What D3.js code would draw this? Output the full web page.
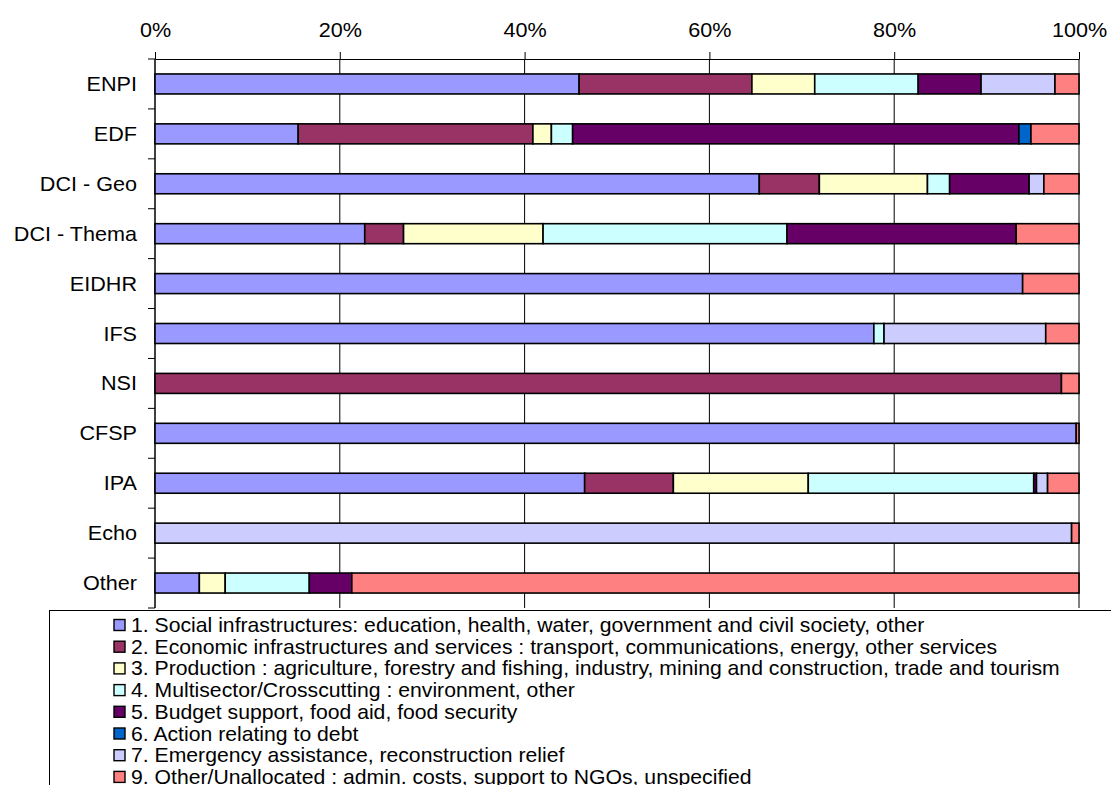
<!DOCTYPE html>
<html>
<head>
<meta charset="utf-8">
<script src="https://cdn.jsdelivr.net/npm/d3@7"></script>
<style>
  body { margin: 0; background: #fff; }
  svg { display: block; }
  text { font-family: "Liberation Sans", Arial, sans-serif; fill: #000; }
</style>
</head>
<body>
<script>
// instruments (rows, top to bottom)
var categories = ["ENPI", "EDF", "DCI - Geo", "DCI - Thema", "EIDHR", "IFS", "NSI", "CFSP", "IPA", "Echo", "Other"];

// share of each sector per instrument (%)
var social     = [45.9, 15.5, 65.4, 22.7, 93.9, 77.8, 0,    99.7, 46.5, 0,    4.8];
var economic   = [18.7, 25.4, 6.5,  4.2,  0,    0,    98.1, 0,    9.6,  0,    0];
var production = [6.8,  2.0,  11.7, 15.1, 0,    0,    0,    0,    14.6, 0,    2.8];
var multisect  = [11.2, 2.3,  2.4,  26.4, 0,    1.1,  0,    0,    24.4, 0,    9.1];
var budget     = [6.8,  48.3, 8.6,  24.8, 0,    0,    0,    0,    0.3,  0,    4.6];
var debt       = [0,    1.3,  0,    0,    0,    0,    0,    0,    0,    0,    0];
var emergency  = [8.0,  0,    1.6,  0,    0,    17.5, 0,    0,    1.2,  99.2, 0];
var unalloc    = [2.6,  5.2,  3.8,  6.8,  6.1,  3.6,  1.9,  0.3,  3.4,  0.8,  78.7];

var seriesNames = [
  "1. Social infrastructures: education, health, water, government and civil society, other",
  "2. Economic infrastructures and services : transport, communications, energy, other services",
  "3. Production : agriculture, forestry and fishing, industry, mining and construction, trade and tourism",
  "4. Multisector/Crosscutting : environment, other",
  "5. Budget support, food aid, food security",
  "6. Action relating to debt",
  "7. Emergency assistance, reconstruction relief",
  "9. Other/Unallocated : admin. costs, support to NGOs, unspecified"
];
var seriesColors = ["#9999ff", "#993366", "#ffffcc", "#ccffff", "#660066", "#0066cc", "#ccccff", "#ff8080"];
var seriesValues = [social, economic, production, multisect, budget, debt, emergency, unalloc];
var xTicks = [0, 20, 40, 60, 80, 100];

var width = 1111, height = 785;
var margin = {top: 59, left: 155, right: 32, bottom: 177};
var stretch = "scale(1.08,1)";  // the original text is a bit wider than Arial
var legendStretch = "scale(1.06,1)";

var svg = d3.select("body").append("svg")
  .attr("width", width)
  .attr("height", height);

// build table for the stack
var keys = d3.range(seriesValues.length);
var rows = categories.map(function(c, i) {
  var r = {cat: c};
  keys.forEach(function(k) { r[k] = seriesValues[k][i]; });
  return r;
});
var stacked = d3.stack().keys(keys)(rows);

var x = d3.scaleLinear().domain([0, 100]).range([margin.left, width - margin.right]);
var yb = d3.scaleBand().domain(categories).range([margin.top, height - margin.bottom]);

// vertical gridlines
svg.append("g")
  .selectAll("line")
  .data(xTicks)
  .enter().append("line")
  .attr("x1", function(d) { return x(d); })
  .attr("x2", function(d) { return x(d); })
  .attr("y1", margin.top)
  .attr("y2", height - margin.bottom)
  .attr("stroke", "#000")
  .attr("stroke-width", 1);

// top axis
var xAxis = svg.append("g")
  .attr("transform", "translate(0," + margin.top + ")")
  .call(d3.axisTop(x).tickValues(xTicks).tickSizeInner(7).tickSizeOuter(0).tickFormat(function(d) { return d + "%"; }));
xAxis.select(".domain").attr("stroke", "#000");
xAxis.selectAll(".tick line").attr("stroke", "#000");
xAxis.selectAll("text")
  .attr("y", -22)
  .attr("transform", stretch)
  .style("font-size", "20px")
  .style("font-family", "'Liberation Sans', Arial, sans-serif");

// left axis: ticks between categories
var yAxisG = svg.append("g");
yAxisG.append("line")
  .attr("x1", margin.left).attr("x2", margin.left)
  .attr("y1", margin.top).attr("y2", height - margin.bottom)
  .attr("stroke", "#000");
yAxisG.selectAll("line.tk")
  .data(categories.concat(["_end"]))
  .enter().append("line")
  .attr("class", "tk")
  .attr("x1", margin.left - 7).attr("x2", margin.left)
  .attr("y1", function(d, i) { return margin.top + i * yb.step(); })
  .attr("y2", function(d, i) { return margin.top + i * yb.step(); })
  .attr("stroke", "#000");
yAxisG.selectAll("g.lab")
  .data(categories)
  .enter().append("g")
  .attr("class", "lab")
  .attr("transform", function(d) { return "translate(" + (margin.left - 18) + "," + (yb(d) + yb.bandwidth() / 2) + ") " + stretch; })
  .append("text")
  .attr("dy", "0.35em")
  .attr("text-anchor", "end")
  .style("font-size", "20px")
  .text(function(d) { return d; });

// bars
svg.append("g")
  .selectAll("g")
  .data(stacked)
  .enter().append("g")
  .attr("fill", function(d) { return seriesColors[d.key]; })
  .selectAll("rect")
  .data(function(d) { return d.filter(function(s) { return s[1] - s[0] > 0; }); })
  .enter().append("rect")
  .attr("x", function(d) { return x(d[0]); })
  .attr("width", function(d) { return x(d[1]) - x(d[0]); })
  .attr("y", function(d) { return yb(d.data.cat) + (yb.bandwidth() - 20) / 2; })
  .attr("height", 20)
  .attr("stroke", "#000")
  .attr("stroke-width", 1.6);

// legend
var legend = svg.append("g");
legend.append("rect")
  .attr("x", 49.5).attr("y", 610.5)
  .attr("width", 1100).attr("height", 200)
  .attr("fill", "#fff")
  .attr("stroke", "#000");

var item = legend.selectAll("g.item")
  .data(seriesNames)
  .enter().append("g")
  .attr("class", "item")
  .attr("transform", function(d, i) { return "translate(0," + (625 + i * 21.7) + ")"; });
item.append("rect")
  .attr("x", 114).attr("y", -5.5)
  .attr("width", 11).attr("height", 11)
  .attr("fill", function(d, i) { return seriesColors[i]; })
  .attr("stroke", "#000")
  .attr("stroke-width", 1.4);
item.append("g")
  .attr("transform", "translate(131,0) " + legendStretch)
  .append("text")
  .attr("dy", "0.35em")
  .style("font-size", "20px")
  .text(function(d) { return d; });
</script>
</body>
</html>
